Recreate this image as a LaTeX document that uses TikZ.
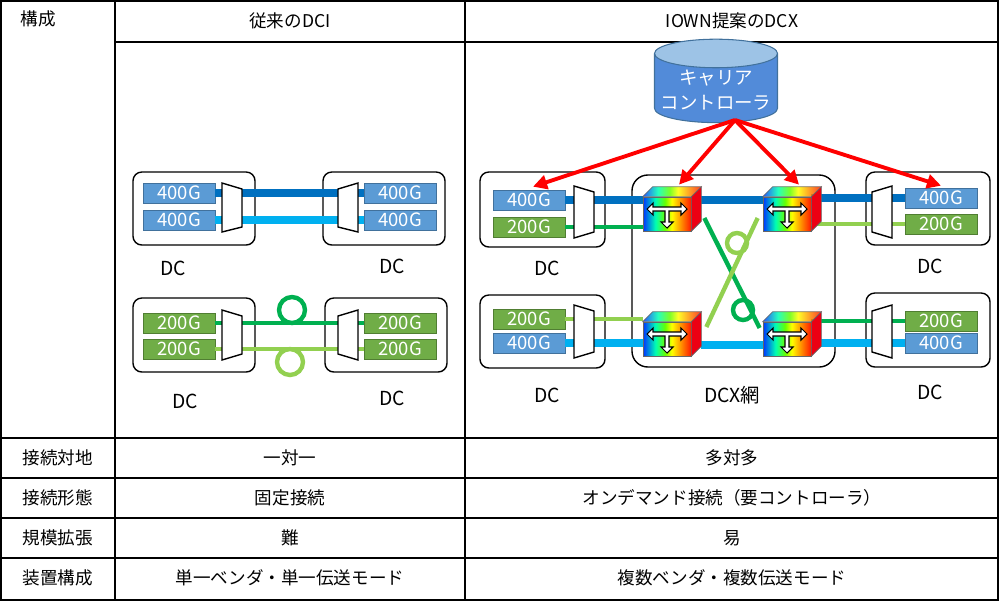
\documentclass[tikz,border=0pt]{standalone}
\usepackage{fontspec}
\setmainfont{Noto Sans CJK JP}
\usetikzlibrary{shapes.geometric,positioning,calc,arrows.meta}
\definecolor{lblblue}{RGB}{91,155,213}
\definecolor{lblbluedk}{RGB}{65,113,156}
\definecolor{lblgreen}{RGB}{112,173,71}
\definecolor{lblgreendk}{RGB}{80,126,50}
\definecolor{fibblue}{RGB}{0,112,192}
\definecolor{fibcyan}{RGB}{0,176,240}
\definecolor{fibgreen}{RGB}{0,176,80}
\definecolor{fiblime}{RGB}{146,208,80}
\pgfdeclarehorizontalshading{rainbow}{100bp}{color(0bp)=(blue!80!cyan); color(25bp)=(blue!80!cyan); color(38bp)=(cyan!70!green); color(48bp)=(green!60!yellow); color(55bp)=(yellow); color(66bp)=(orange); color(75bp)=(red!80!orange); color(100bp)=(red!80!orange)}

\begin{document}
\begin{tikzpicture}[x=0.02cm,y=-0.02cm,
    grid/.style={black, line width=0.6pt},
    cell/.style={font=\fontsize{10}{12}\selectfont},
    dcbox/.style={draw=black, line width=0.8pt, rounded corners=5pt},
    g400/.style={draw=lblbluedk, fill=lblblue, text=white, minimum width=1.44cm, minimum height=0.4cm, inner sep=0pt, font=\fontsize{10.5}{11}\selectfont},
    g200/.style={g400, draw=lblgreendk, fill=lblgreen},
    dclabel/.style={font=\fontsize{11}{12}\selectfont},
    mux/.style={draw=black, line width=0.8pt, fill=white},
    thickfib/.style={line width=4.5pt},
    thinfib/.style={line width=2.5pt},
    cube/.style={draw=black!60, line width=0.4pt, shading=rainbow, minimum width=0.96cm, minimum height=0.68cm, inner sep=0pt},
    ctrl/.style={->, red, line width=2.2pt, >={Triangle[length=8pt,width=8pt]}}
]
\useasboundingbox (0,0) rectangle (1000,603);

% Table
\draw[grid] (1,1) rectangle (998,600);
\draw[grid] (115,1) -- (115,600);
\draw[grid] (465,1) -- (465,600);
\draw[grid] (115,42) -- (998,42);
\foreach \y in {438,478,518,558} \draw[grid] (1,\y) -- (998,\y);

\node[cell] (hA) at (38,19) {構成};
\node[cell] (hB) at (290,21) {従来のDCI};
\node[cell] (hC) at (732,21) {IOWN提案のDCX};
\foreach \row/\y/\ta/\tb/\tc in {r1/458/接続対地/一対一/多対多, r2/498/接続形態/固定接続/オンデマンド接続（要コントローラ）, r3/538/規模拡張/難/易, r4/578/装置構成/単一ベンダ・単一伝送モード/複数ベンダ・複数伝送モード}{
    \node[cell] (\row a) at (58,\y) {\ta};
    \node[cell] (\row b) at (290,\y) {\tb};
    \node[cell] (\row c) at (732,\y) {\tc};
}

% DCI: 400G pair
\draw[dcbox] (133,172) rectangle (255,245);
\draw[dcbox] (323,172) rectangle (445,245);
\node[g400] (la1) at (179,193) {400G};
\node[g400] (la2) at (179,220) {400G};
\node[g400] (ra1) at (400,193) {400G};
\node[g400] (ra2) at (400,220) {400G};
\draw[thickfib, fibblue] (la1.east) -- (ra1.west);
\draw[thickfib, fibcyan] (la2.east) -- (ra2.west);
\draw[mux] (222,183) -- (242,189) -- (242,227) -- (222,232) -- cycle;
\draw[mux] (358,183) -- (338,189) -- (338,227) -- (358,232) -- cycle;
\node[dclabel] (dc1) at (173,268) {DC};
\node[dclabel] (dc2) at (392,266) {DC};

% DCI: 200G pair
\draw[dcbox] (133,298) rectangle (255,372);
\draw[dcbox] (325,298) rectangle (447,372);
\node[g200] (lb1) at (179,323) {200G};
\node[g200] (lb2) at (179,349) {200G};
\node[g200] (rb1) at (400,323) {200G};
\node[g200] (rb2) at (400,349) {200G};
\draw[thinfib, fibgreen] (lb1.east) -- (rb1.west);
\draw[thinfib, fiblime] (lb2.east) -- (rb2.west);
\draw[thinfib, fibgreen] (292,310) circle (13);
\draw[thinfib, fiblime] (290,362) circle (13);
\draw[mux] (222,310) -- (242,316) -- (242,354) -- (222,360) -- cycle;
\draw[mux] (358,310) -- (338,316) -- (338,354) -- (358,360) -- cycle;
\node[dclabel] (dc3) at (185,401) {DC};
\node[dclabel] (dc4) at (392,398) {DC};

% DCX: data centers
\draw[dcbox] (480,172) rectangle (605,247);
\draw[dcbox] (480,295) rectangle (605,368);
\draw[dcbox] (866,172) rectangle (990,245);
\draw[dcbox] (866,293) rectangle (990,367);
\node[g400] (p1) at (529,200) {400G};
\node[g200] (p2) at (529,227) {200G};
\node[g200] (q1) at (529,319) {200G};
\node[g400] (q2) at (529,343) {400G};
\node[g400] (s1) at (941,198) {400G};
\node[g200] (s2) at (941,224) {200G};
\node[g200] (t1) at (941,321) {200G};
\node[g400] (t2) at (941,343) {400G};
\node[dclabel] (dc5) at (547,268) {DC};
\node[dclabel] (dc6) at (547,395) {DC};
\node[dclabel] (dc7) at (930,266) {DC};
\node[dclabel] (dc8) at (930,392) {DC};

% DCX network
\draw[dcbox, rounded corners=9pt] (632,175) rectangle (835,367);
\node[dclabel] (dcx) at (732,395) {DCX網};

% Cubes (front faces)
\node[cube] (c1) at (667,214) {};
\node[cube] (c2) at (787,214) {};
\node[cube] (c3) at (667,339) {};
\node[cube] (c4) at (787,339) {};

% Fibers
\draw[thickfib, fibblue] (p1.east) -- (c1.west |- p1.east);
\draw[thinfib, fibgreen] (p2.east) -- (c1.west |- p2.east);
\draw[thickfib, fibblue] ($(c1.east)+(10,-14)$) -- ($(c2.west)+(0,-14)$);
\draw[thickfib, fibblue] (c2.east |- s1.west) -- (s1.west);
\draw[thinfib, fiblime] (c2.east |- s2.west) -- (s2.west);
\draw[thinfib, fiblime] (q1.east) -- (c3.west |- q1.east);
\draw[thickfib, fibcyan] (q2.east) -- (c3.west |- q2.east);
\draw[thickfib, fibcyan] ($(c3.east)+(10,6)$) -- ($(c4.west)+(0,6)$);
\draw[thinfib, fibgreen] (c4.east |- t1.west) -- (t1.west);
\draw[thickfib, fibcyan] (c4.east |- t2.west) -- (t2.west);
\draw[thinfib, fibgreen] ($(c1.east)+(13,4)$) -- ($(c4.west)+(-3,-11)$);
\draw[thinfib, fibgreen] (743,310) circle (10);
\draw[thinfib, fiblime] ($(c3.east)+(15,-12)$) -- ($(c2.west)+(-5,4)$);
\draw[thinfib, fiblime] (737,243) circle (10);

% Mux shapes
\draw[mux] (574,186) -- (594,192) -- (594,232) -- (574,238) -- cycle;
\draw[mux] (574,305) -- (594,311) -- (594,352) -- (574,358) -- cycle;
\draw[mux] (892,186) -- (872,192) -- (872,232) -- (892,238) -- cycle;
\draw[mux] (892,305) -- (872,311) -- (872,352) -- (892,358) -- cycle;

% Cube top/right faces and T arrows
\foreach \c in {c1,c2,c3,c4}{
    \shade[draw=black!60, line width=0.4pt, shading=rainbow, opacity=0.85] (\c.north west) -- ++(10,-10) -- ($(\c.north east)+(10,-10)$) -- (\c.north east) -- cycle;
    \draw[black!60, line width=0.4pt, fill=red!70!purple] (\c.north east) -- ++(10,-10) -- ($(\c.south east)+(10,-10)$) -- (\c.south east) -- cycle;
    \draw[black, line width=0.6pt, fill=white, shift={(\c.center)}]
      (-20,-5) -- (-14,-11) -- (-14,-7) -- (14,-7) -- (14,-11) -- (20,-5) -- (14,1) -- (14,-3)
      -- (2,-3) -- (2,8) -- (6,8) -- (0,14) -- (-6,8) -- (-2,8) -- (-2,-3) -- (-14,-3) -- (-14,1) -- cycle;
}

% Carrier controller
\node[cylinder, shape border rotate=90, aspect=0.25, minimum height=1.3cm, minimum width=2.46cm,
      draw=lblbluedk, line width=0.6pt, cylinder uses custom fill, cylinder body fill=lblblue!90!blue,
      cylinder end fill=lblblue!60, text=white, align=center, inner sep=1pt,
      font=\fontsize{10.5}{14}\selectfont] (ctl) at (716,90) {キャリア\\コントローラ};
\coordinate (ctlb) at (735,120);
\draw[ctrl] (ctlb) -- ($(p1.north)+(4,-3)$);
\draw[ctrl] (ctlb) -- ($(c1.north)+(12,-12)$);
\draw[ctrl] (ctlb) -- ($(c2.north)+(12,-12)$);
\draw[ctrl] (ctlb) -- ($(s1.north)+(0,-2)$);
\end{tikzpicture}
\end{document}
